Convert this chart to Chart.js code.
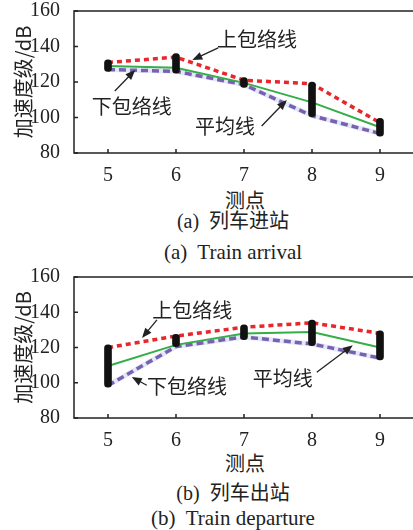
<!DOCTYPE html>
<html>
<head>
<meta charset="utf-8">
<script src="https://cdn.jsdelivr.net/npm/chart.js@4.4.1/dist/chart.umd.min.js"></script>
<style>
body { margin: 0; background: #fff; width: 413px; height: 530px; overflow: hidden; position: relative;
       font-family: "Liberation Serif", "Noto Sans CJK SC", serif; color: #222; }
.box { position: absolute; left: 0; width: 414px; }
.txt { position: absolute; left: 0; text-align: center; white-space: nowrap; font-size: 20px; line-height: 24px; }
.en { font-size: 21px; }
</style>
</head>
<body>
<div class="box" style="top:0;height:186px"><canvas id="chartA"></canvas></div>
<div class="txt" style="top:189px;width:490px">测点</div>
<div class="txt" style="top:209px;width:466px">(a)&nbsp; 列车进站</div>
<div class="txt en" style="top:240px;width:466px">(a)&nbsp; Train arrival</div>

<div class="box" style="top:266px;height:185px"><canvas id="chartB"></canvas></div>
<div class="txt" style="top:452px;width:490px">测点</div>
<div class="txt" style="top:481px;width:466px">(b)&nbsp; 列车出站</div>
<div class="txt en" style="top:506px;width:466px">(b)&nbsp; Train departure</div>

<script>
const stations = [5, 6, 7, 8, 9];
const yTicks = [80, 100, 120, 140, 160];

// (a) train arrival
const arrUpper = [131, 134, 121, 119, 97];
const arrMean = [129, 128, 119.5, 108.5, 94.5];
const arrLower = [127, 126, 118.5, 101, 91];
const arrMin = [126, 125, 117, 100.5, 89.5];
const arrMax = [132.5, 136, 122.5, 120, 99.5];

// (b) train departure
const depUpper = [120, 126.5, 131.5, 134, 128];
const depMean = [109.5, 121.5, 128, 128.8, 120];
const depLower = [98.5, 120.5, 126, 122, 114];
const depMin = [97.5, 120.5, 124.5, 121, 113];
const depMax = [121.5, 127.5, 132.8, 135.5, 129.4];

const ink = "#222";
const serif = "'Liberation Serif', 'Noto Sans CJK SC', serif";
const cjk = "'Noto Sans CJK SC', sans-serif";

const pts = (vals) => stations.map((s, i) => ({ x: s, y: vals[i] }));

// frame, inward ticks, labels with arrows
const decor = {
  id: "decor",
  afterDatasetsDraw(chart, args, opts) {
    const { ctx, chartArea: a, scales: { x, y } } = chart;
    ctx.save();
    ctx.strokeStyle = ink;
    ctx.lineWidth = 1.5;
    ctx.strokeRect(a.left, a.top, a.right - a.left, a.bottom - a.top);
    ctx.beginPath();
    stations.forEach(s => { const px = x.getPixelForValue(s); ctx.moveTo(px, a.bottom); ctx.lineTo(px, a.bottom - 4); });
    yTicks.forEach(v => { const py = y.getPixelForValue(v); ctx.moveTo(a.left, py); ctx.lineTo(a.left + 4, py); });
    ctx.stroke();

    ctx.font = "20px " + cjk;
    ctx.fillStyle = ink;
    ctx.textAlign = "center";
    ctx.textBaseline = "middle";
    (opts.notes || []).forEach(n => {
      ctx.fillText(n.text, x.getPixelForValue(n.tx), y.getPixelForValue(n.ty));
      const x1 = x.getPixelForValue(n.from[0]), y1 = y.getPixelForValue(n.from[1]);
      const x2 = x.getPixelForValue(n.to[0]), y2 = y.getPixelForValue(n.to[1]);
      const ang = Math.atan2(y2 - y1, x2 - x1);
      ctx.lineWidth = 1.3;
      ctx.beginPath();
      ctx.moveTo(x1, y1);
      ctx.lineTo(x2 - 6 * Math.cos(ang), y2 - 6 * Math.sin(ang));
      ctx.stroke();
      ctx.beginPath();
      ctx.moveTo(x2, y2);
      ctx.lineTo(x2 - 10 * Math.cos(ang) + 4 * Math.sin(ang), y2 - 10 * Math.sin(ang) - 4 * Math.cos(ang));
      ctx.lineTo(x2 - 10 * Math.cos(ang) - 4 * Math.sin(ang), y2 - 10 * Math.sin(ang) + 4 * Math.cos(ang));
      ctx.closePath();
      ctx.fill();
    });
    ctx.restore();
  }
};

function makeChart(id, upper, mean, lower, lo, hi, notes) {
  return new Chart(document.getElementById(id), {
    type: "line",
    data: {
      datasets: [
        { type: "bar", data: stations.map((s, i) => ({ x: s, y: [lo[i], hi[i]] })), backgroundColor: "#111",
          barThickness: 7, borderRadius: 3.5, borderSkipped: false, order: 0 },
        { data: pts(upper), borderColor: "#e8262b", borderWidth: 3.5, borderDash: [5, 4], pointRadius: 0, order: 1 },
        { data: pts(lower), borderColor: "#e2e9f6", borderWidth: 5, pointRadius: 0, order: 3 },
        { data: pts(lower), borderColor: "#7a5fb3", borderWidth: 3.5, borderDash: [7, 4], pointRadius: 0, order: 2 },
        { data: pts(mean), borderColor: "#35ad48", borderWidth: 2, pointRadius: 0, order: 1 }
      ]
    },
    options: {
      responsive: true,
      maintainAspectRatio: false,
      animation: false,
      layout: { padding: { top: 11, left: 0, right: 0, bottom: 0 } },
      plugins: { legend: { display: false }, tooltip: { enabled: false }, decor: { notes } },
      scales: {
        x: {
          type: "linear", min: 4.5, max: 9.5, offset: false,
          grid: { display: false }, border: { display: false },
          afterBuildTicks: s => { s.ticks = stations.map(v => ({ value: v })); },
          afterFit: s => { s.height = 33; s.paddingLeft = 0; s.paddingRight = 0; },
          ticks: { color: ink, padding: 3, font: { family: serif, size: 20 } }
        },
        y: {
          min: 80, max: 160,
          grid: { display: false }, border: { display: false },
          afterBuildTicks: s => { s.ticks = yTicks.map(v => ({ value: v })); },
          afterFit: s => { s.width = 74; s.paddingTop = 0; s.paddingBottom = 0; },
          ticks: { color: ink, padding: 6, font: { family: serif, size: 20 } },
          title: { display: true, text: "加速度级/dB", color: ink, padding: { top: 11, bottom: 0 },
                   font: { family: cjk, size: 20 } }
        }
      }
    },
    plugins: [decor]
  });
}

makeChart("chartA", arrUpper, arrMean, arrLower, arrMin, arrMax, [
  { text: "上包络线", tx: 7.19, ty: 144.2, from: [6.62, 139.2], to: [6.24, 132.4] },
  { text: "下包络线", tx: 5.35, ty: 106.5, from: [5.10, 114.9], to: [5.40, 126.8] },
  { text: "平均线", tx: 6.72, ty: 95.2, from: [7.26, 95.2], to: [7.63, 109.9] }
]);

makeChart("chartB", depUpper, depMean, depLower, depMin, depMax, [
  { text: "上包络线", tx: 6.24, ty: 141.3, from: [5.72, 135.7], to: [5.50, 125.4] },
  { text: "下包络线", tx: 6.16, ty: 98.1, from: [5.57, 98.6], to: [5.35, 103.2] },
  { text: "平均线", tx: 7.57, ty: 102.6, from: [8.07, 106], to: [8.60, 121.3] }
]);
</script>
</body>
</html>
